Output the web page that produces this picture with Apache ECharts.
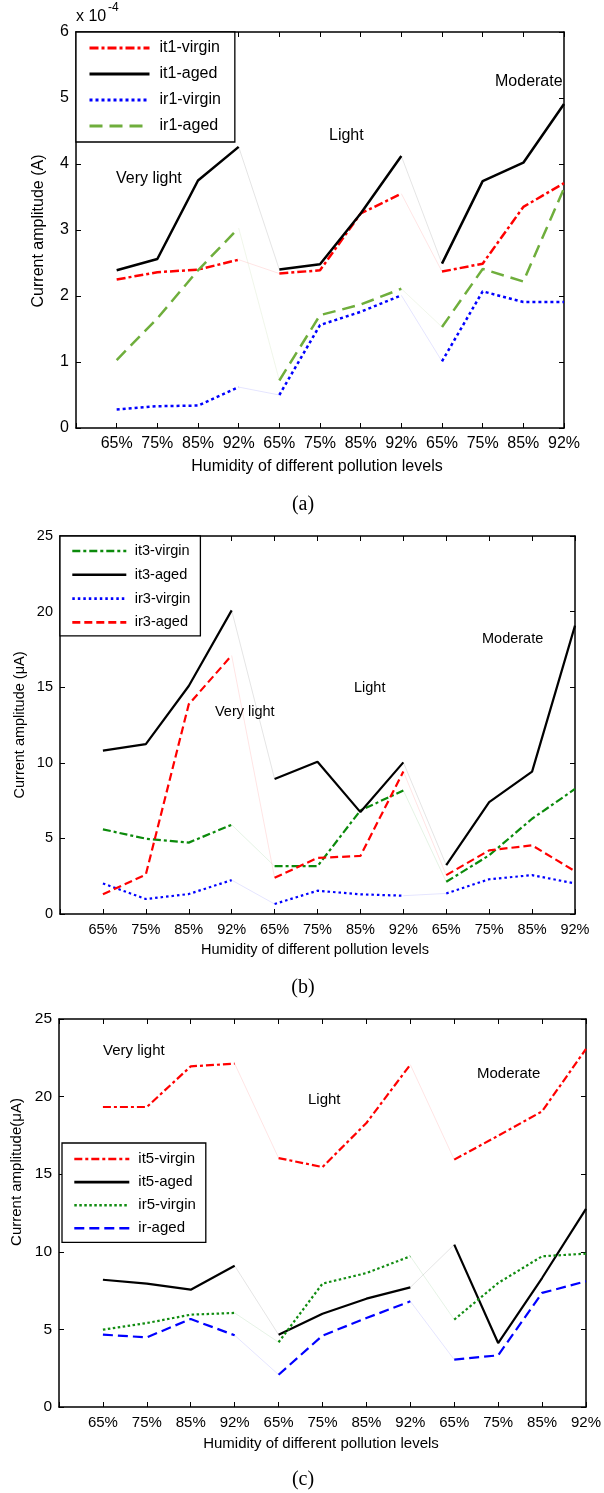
<!DOCTYPE html>
<html><head><meta charset="utf-8">
<script src="https://cdn.jsdelivr.net/npm/echarts@6/dist/echarts.min.js"></script>
<style>html,body{margin:0;padding:0;background:#fff}#c{width:604px;height:1493px}</style>
</head><body><div id="c"></div>
<script>
// ---------- data ----------
const xTickLabels = ['65%','75%','85%','92%','65%','75%','85%','92%','65%','75%','85%','92%'];
const groupLabels = ['Very light','Light','Moderate'];

// Panel (a): current amplitude, units of 1e-4 A
const it1Virgin = [2.25, 2.36, 2.40, 2.55, 2.34, 2.39, 3.25, 3.55, 2.37, 2.49, 3.35, 3.71];
const it1Aged   = [2.39, 2.56, 3.75, 4.26, 2.40, 2.48, 3.25, 4.12, 2.49, 3.74, 4.02, 4.91];
const ir1Virgin = [0.28, 0.33, 0.34, 0.62, 0.50, 1.56, 1.76, 2.01, 1.01, 2.07, 1.91, 1.91];
const ir1Aged   = [1.03, 1.66, 2.39, 3.03, 0.72, 1.71, 1.87, 2.11, 1.53, 2.41, 2.22, 3.63];

// Panel (b): µA
const it3Virgin = [5.6, 4.98, 4.72, 5.9, 3.16, 3.16, 6.85, 8.17, 2.13, 3.88, 6.3, 8.27];
const it3Aged   = [10.8, 11.24, 15.08, 20.08, 8.93, 10.07, 6.74, 10.03, 3.23, 7.4, 9.42, 19.07];
const ir3Virgin = [2.02, 0.99, 1.32, 2.24, 0.66, 1.54, 1.3, 1.21, 1.36, 2.3, 2.57, 2.02];
const ir3Aged   = [1.3, 2.61, 13.87, 17.1, 2.39, 3.71, 3.84, 9.42, 2.57, 4.21, 4.54, 2.83];

// Panel (c): µA
const it5Virgin = [19.33, 19.33, 21.95, 22.12, 16.04, 15.46, 18.3, 22.06, 15.94, 17.48, 19.05, 23.07];
const it5Aged   = [8.2, 7.95, 7.56, 9.1, 4.66, 6.01, 6.98, 7.71, 10.46, 4.12, 8.31, 12.76];
const ir5Virgin = [4.98, 5.41, 5.95, 6.06, 4.17, 7.95, 8.63, 9.71, 5.63, 7.99, 9.71, 9.88];
const irAged    = [4.66, 4.49, 5.67, 4.62, 2.08, 4.6, 5.73, 6.81, 3.05, 3.33, 7.35, 8.1];

const yMaxes = [6, 25, 25];
const yIntervals = [1, 5, 5];

// ---------- styles ----------
const FF = '"Liberation Sans", Arial, sans-serif';
const panels = [
  { grid:{left:76, top:32, width:488, height:396}, fs:16, yfs:16,
    legend:{left:76, top:32, padding:[8,14,8,12], itemWidth:60, itemHeight:14, itemGap:10, tpad:5, lw:3},
    lines:[
      {name:'it1-virgin', v:it1Virgin, color:'#ff0000', type:[9,3,3,3], width:2.5},
      {name:'it1-aged',   v:it1Aged,   color:'#000000', type:'solid',   width:2.5},
      {name:'ir1-virgin', v:ir1Virgin, color:'#0000ff', type:[3,3],     width:2.5},
      {name:'ir1-aged',   v:ir1Aged,   color:'#6fae3c', type:[13,7],    width:2.5}
    ],
    yTitle:{text:'Current amplitude (A)', x:39, y:231},
    xTitle:{x:317, y:467},
    notes:[{x:116,y:179},{x:329,y:136},{x:495,y:82}],
    caption:{text:'(a)', y:505}
  },
  { grid:{left:60, top:536, width:515, height:378}, fs:14.5, yfs:14.5,
    legend:{left:60, top:536, padding:[7.5,10,6,11], itemWidth:54, itemHeight:12, itemGap:8.8, tpad:3.5, lw:2.6},
    lines:[
      {name:'it3-virgin', v:it3Virgin, color:'#0b8a0b', type:[8,3,3,3], width:2.2},
      {name:'it3-aged',   v:it3Aged,   color:'#000000', type:'solid',   width:2.2},
      {name:'ir3-virgin', v:ir3Virgin, color:'#0000ff', type:[2.5,3],   width:2.2},
      {name:'ir3-aged',   v:ir3Aged,   color:'#ff0000', type:[8,4],     width:2.2}
    ],
    yTitle:{text:'Current amplitude (\u03bcA)', x:20, y:725},
    xTitle:{x:315, y:950},
    notes:[{x:215,y:712},{x:354,y:688},{x:482,y:639}],
    caption:{text:'(b)', y:988}
  },
  { grid:{left:59, top:1019, width:528, height:388}, fs:15, yfs:15.5,
    legend:{left:62, top:1143, padding:[8.5,10,6.5,11], itemWidth:55, itemHeight:12, itemGap:8.1, tpad:4, lw:2.6},
    lines:[
      {name:'it5-virgin', v:it5Virgin, color:'#ff0000', type:[8,3,3,3], width:2.2},
      {name:'it5-aged',   v:it5Aged,   color:'#000000', type:'solid',   width:2.2},
      {name:'ir5-virgin', v:ir5Virgin, color:'#118c11', type:[2.5,2.5], width:2.2},
      {name:'ir-aged',    v:irAged,    color:'#0000ff', type:[10,5],    width:2.2}
    ],
    yTitle:{text:'Current amplitude(\u03bcA)', x:17, y:1172},
    xTitle:{x:321, y:1444},
    notes:[{x:103,y:1051},{x:308,y:1100},{x:477,y:1074}],
    caption:{text:'(c)', y:1480}
  }
];

// ---------- build option ----------
const grid = [], xAxis = [], yAxis = [], series = [], legend = [], graphic = [];
const tick = {show:true, inside:true, length:5, lineStyle:{color:'#000', width:1}};
const axLine = {show:true, onZero:false, lineStyle:{color:'#000', width:1.5}};

panels.forEach((p, pi) => {
  grid.push(Object.assign({containLabel:false}, p.grid));
  xAxis.push({type:'value', gridIndex:pi, position:'bottom', min:0, max:12, interval:1,
    axisLine:axLine, axisTick:tick, splitLine:{show:false},
    axisLabel:{show:true, margin:8, color:'#000', fontFamily:FF, fontSize:p.fs, showMaxLabel:true, showMinLabel:true,
      formatter: v => { const i = Math.round(v); return (i>=1 && i<=12) ? xTickLabels[i-1] : ''; }}});
  xAxis.push({type:'value', gridIndex:pi, position:'top', min:0, max:12, interval:1,
    axisLine:axLine, axisTick:tick, splitLine:{show:false}, axisLabel:{show:false}});
  yAxis.push({type:'value', gridIndex:pi, position:'left', min:0, max:yMaxes[pi], interval:yIntervals[pi],
    axisLine:axLine, axisTick:tick, splitLine:{show:false},
    axisLabel:{show:true, margin:7, color:'#000', fontFamily:FF, fontSize:p.yfs}});
  yAxis.push({type:'value', gridIndex:pi, position:'right', min:0, max:yMaxes[pi], interval:yIntervals[pi],
    axisLine:axLine, axisTick:tick, splitLine:{show:false}, axisLabel:{show:false}});

  p.lines.forEach(ln => {
    for (let g = 0; g < 3; g++) {
      const data = [];
      for (let k = 0; k < 4; k++) data.push([g*4 + k + 1, ln.v[g*4 + k]]);
      series.push({type:'line', name:ln.name, xAxisIndex:pi*2, yAxisIndex:pi*2, data,
        symbol:'none', showSymbol:false, silent:true, z:3,
        lineStyle:{color:ln.color, width:ln.width, type:ln.type, cap:'butt'},
        itemStyle:{color:ln.color}});
    }
    for (let g = 0; g < 2; g++) {
      const a = g*4 + 3, b = g*4 + 4;
      series.push({type:'line', name:ln.name + ' link', xAxisIndex:pi*2, yAxisIndex:pi*2,
        data:[[a+1, ln.v[a]], [b+1, ln.v[b]]], symbol:'none', silent:true, z:2,
        lineStyle:{color:ln.color, width:0.6, opacity:0.18, type:'solid'}});
    }
  });

  const L = p.legend;
  legend.push({show:true, orient:'vertical', left:L.left, top:L.top, padding:L.padding,
    itemWidth:L.itemWidth, itemHeight:L.itemHeight, itemGap:L.itemGap, selectedMode:false,
    borderColor:'#000', borderWidth:1.3, backgroundColor:'#fff', borderRadius:0,
    itemStyle:{opacity:0, color:'rgba(0,0,0,0)', borderWidth:0},
    lineStyle:{width:L.lw},
    textStyle:{color:'#000', fontFamily:FF, fontSize:p.fs, padding:[0,0,0,L.tpad]},
    data:p.lines.map(l => l.name)});

  // titles & annotations
  graphic.push({type:'text', x:p.yTitle.x, y:p.yTitle.y, rotation:Math.PI/2, silent:true,
    style:{text:p.yTitle.text, fill:'#000', font:`${p.fs}px ${FF}`, align:'center', verticalAlign:'middle'}});
  graphic.push({type:'text', x:p.xTitle.x, y:p.xTitle.y, silent:true,
    style:{text:'Humidity of different pollution levels', fill:'#000', font:`${p.fs}px ${FF}`, align:'center', verticalAlign:'middle'}});
  p.notes.forEach((n, i) => graphic.push({type:'text', x:n.x, y:n.y, silent:true,
    style:{text:groupLabels[i], fill:'#000', font:`${p.fs}px ${FF}`, align:'left', verticalAlign:'middle'}}));
  graphic.push({type:'text', x:303, y:p.caption.y, silent:true,
    style:{text:p.caption.text, fill:'#000', font:`20px "Liberation Serif", "Times New Roman", serif`, align:'center', verticalAlign:'middle'}});
});

// exponent label for panel (a)
graphic.push({type:'text', x:76, y:17, silent:true,
  style:{text:'x 10', fill:'#000', font:`16px ${FF}`, align:'left', verticalAlign:'middle'}});
graphic.push({type:'text', x:108, y:8, silent:true,
  style:{text:'-4', fill:'#000', font:`12px ${FF}`, align:'left', verticalAlign:'middle'}});

const chart = echarts.init(document.getElementById('c'), null, {renderer:'canvas'});
chart.setOption({animation:false, backgroundColor:'#fff', grid, xAxis, yAxis, series, legend, graphic});
</script>
</body></html>
